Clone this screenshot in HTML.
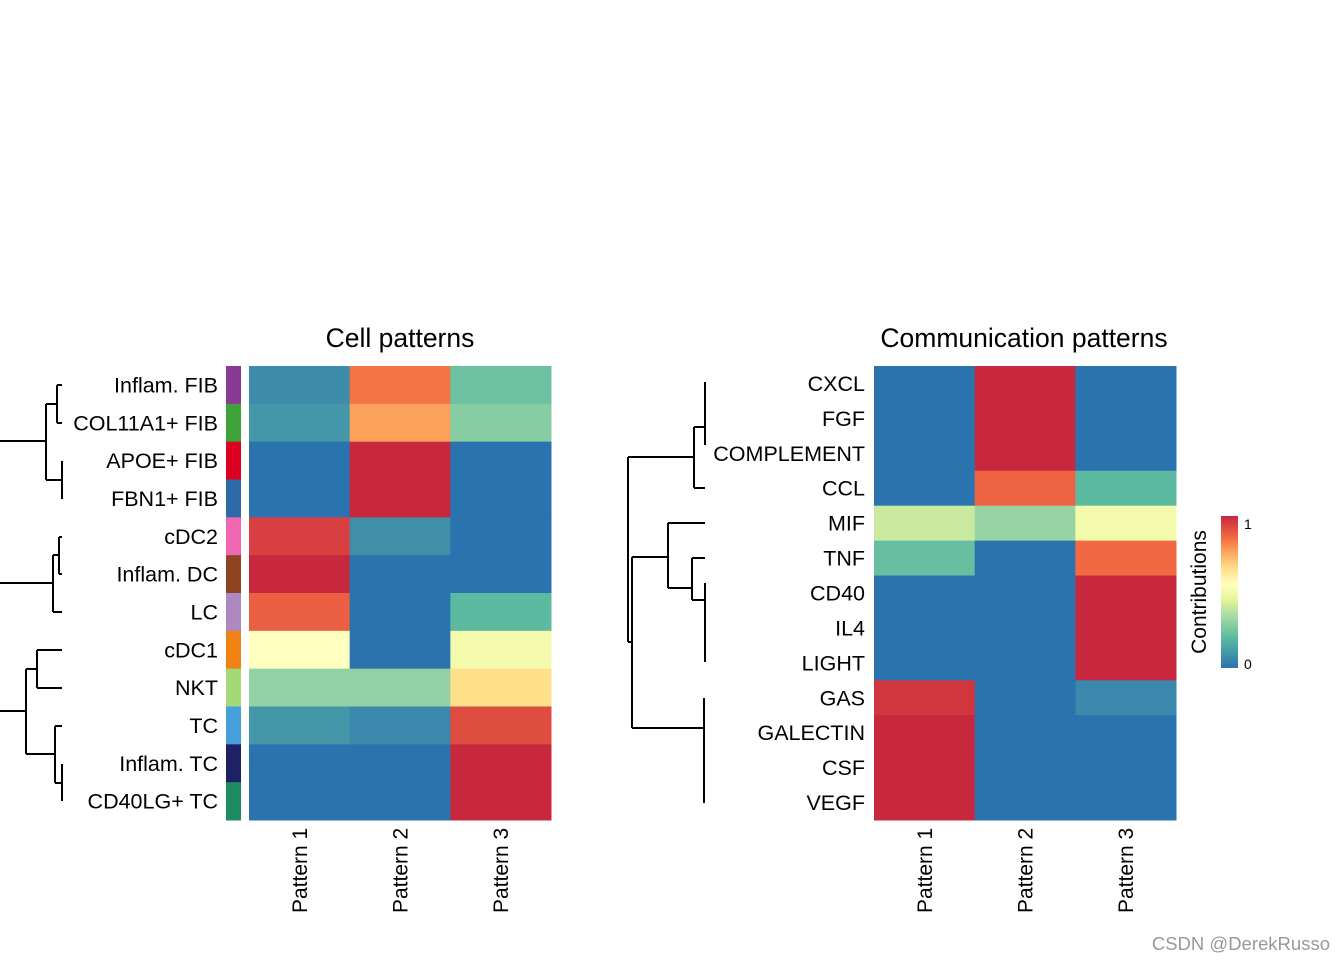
<!DOCTYPE html>
<html><head><meta charset="utf-8"><style>
body{margin:0;background:#fff;}
svg{display:block;font-family:"Liberation Sans",Arial,sans-serif;}
</style></head><body>
<svg id="c" width="1344" height="960">
<g id="dend" stroke="#000" stroke-width="2" fill="none">
<path d="M57,385H62M57,423H62M57,385V423M62,461V499M46,404V480M46,404H57M46,480H62M0,441H46
M59,537H62M59,574H62M59,537V574M53,555V612M53,555H59M53,612H62M0,583H53
M37,650H62M37,688H62M37,650V688M62,764V801M55,726H62M55,783H62M55,726V783M26,669V754M26,669H37M26,754H55M0,711H26"/>
<path d="M705,382V445M694,427V488M694,427H705M694,488H705M628,457H694M628,457V642M628,642H632
M632,557V728M632,557H668M668,523H705M668,523V588M668,588H692M692,558H705M692,558V600M692,600H705M705,583V662
M632,728H704M704,698V803"/>
</g>
<text x="400" y="347" text-anchor="middle" font-size="26.5">Cell patterns</text>
<text x="1024" y="347" text-anchor="middle" font-size="26.5">Communication patterns</text>
<g id="left"></g><g id="right"></g>
<defs><linearGradient id="lg" x1="0" y1="1" x2="0" y2="0"></linearGradient></defs>
<rect x="1221" y="516" width="17" height="152" fill="url(#lg)"/>
<text x="1244" y="529" font-size="14">1</text>
<text x="1244" y="669" font-size="14">0</text>
<text transform="translate(1206,592) rotate(-90)" text-anchor="middle" font-size="21">Contributions</text>
<text x="1330" y="950" text-anchor="end" font-size="18.5" fill="#999">CSDN @DerekRusso</text>
</svg>
<script>
const cellRows=["Inflam. FIB","COL11A1+ FIB","APOE+ FIB","FBN1+ FIB","cDC2","Inflam. DC","LC","cDC1","NKT","TC","Inflam. TC","CD40LG+ TC"];
const cellColors=["#8a3a96","#3fa33a","#dc0021","#2c6aa8","#f068b4","#8e4422","#ae88c0","#ef8212","#a4d977","#47a0dc","#1e2166","#1f8b62"];
const cellP1=[0.07,0.1,0,0,0.95,1,0.88,0.55,0.3,0.1,0,0];
const cellP2=[0.84,0.77,1,1,0.08,0,0,0,0.3,0.06,0,0];
const cellP3=[0.23,0.28,0,0,0,0,0.2,0.5,0.65,0.92,1,1];
const commRows=["CXCL","FGF","COMPLEMENT","CCL","MIF","TNF","CD40","IL4","LIGHT","GAS","GALECTIN","CSF","VEGF"];
const commP1=[0,0,0,0,0.4,0.22,0,0,0,0.97,1,1,1];
const commP2=[1,1,1,0.87,0.31,0,0,0,0,0,0,0,0];
const commP3=[0,0,0,0.2,0.5,0.86,1,1,1,0.06,0,0,0];
const colLabels=["Pattern 1","Pattern 2","Pattern 3"];
const stops=[[0,"#2b73af"],[0.2,"#5cbaa0"],[0.35,"#abdda4"],[0.45,"#e6f598"],[0.55,"#ffffbf"],[0.65,"#fee08b"],[0.75,"#fdae61"],[0.85,"#f46d43"],[1,"#c8283e"]];
function hx(h){return [1,3,5].map(i=>parseInt(h.substr(i,2),16));}
function col(v){for(let i=1;i<stops.length;i++){if(v<=stops[i][0]){const[a,ca]=stops[i-1],[b,cb]=stops[i];const t=(v-a)/(b-a);const x=hx(ca),y=hx(cb);return "rgb("+x.map((q,k)=>Math.round(q+(y[k]-q)*t)).join(",")+")";}}return stops[stops.length-1][1];}
const NS="http://www.w3.org/2000/svg";
function mk(p,tag,at){const e=document.createElementNS(NS,tag);for(const k in at)e.setAttribute(k,at[k]);p.appendChild(e);return e;}
const lg=document.getElementById('lg');
stops.forEach(s=>{mk(lg,'stop',{offset:s[0],'stop-color':s[1]});});
function heat(g,x0,y0,w,h,rows,series,labelX,annot){
 const rh=h/rows.length,cw=w/series.length;
 rows.forEach((r,i)=>{
  series.forEach((s,j)=>{
   const e=mk(g,'rect',{x:x0+j*cw,y:y0+i*rh,width:cw+0.5,height:rh+0.5,fill:col(s[i])});
   
   
  });
  const t=mk(g,'text',{x:labelX,y:y0+(i+0.5)*rh+7.5,'text-anchor':'end','font-size':21.5});
  t.textContent=r;
  
  
  if(annot){const a=mk(g,'rect',{x:226,y:y0+i*rh,width:15,height:rh+0.5,fill:annot[i]});
   
   }
 });
 colLabels.forEach((c,j)=>{
  const cx=x0+(j+0.5)*cw+7.5;
  const t=mk(g,'text',{transform:`translate(${cx},913) rotate(-90)`,'font-size':21});
  t.textContent=c;
  
  
 });
}
heat(document.getElementById('left'),249,366,302,454,cellRows,[cellP1,cellP2,cellP3],218,cellColors);
heat(document.getElementById('right'),874,366,302,454,commRows,[commP1,commP2,commP3],865,null);
</script>
</body></html>
